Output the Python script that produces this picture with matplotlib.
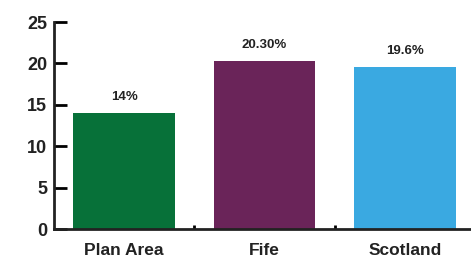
import matplotlib.pyplot as plt
import numpy as np

areas = ['Plan Area', 'Fife', 'Scotland']
values = [14, 20.3, 19.6]
labels = ['14%', '20.30%', '19.6%']
colors = ['#077139', '#6a2459', '#3aa9e1']

plt.rcParams['font.family'] = ['Liberation Sans', 'DejaVu Sans']

fig = plt.figure(figsize=(4.71, 2.63), dpi=100)
ax = fig.add_axes([54 / 471, 34 / 263, 421 / 471, 207 / 263])

x = np.arange(len(areas))
bars = ax.bar(x, values, width=0.726, color=colors)

for xi, v, lab in zip(x, values, labels):
    ax.text(xi, v + 1.2, lab, ha='center', va='bottom', fontsize=9.5,
            fontweight='bold', color='#222222')

ax.set_xlim(-0.5, 2.5)
ax.set_ylim(0, 25)
ax.set_yticks([0, 5, 10, 15, 20, 25])
ax.set_xticks(x)
ax.set_xticklabels(areas, fontsize=12.5, fontweight='bold', color='#222222')
ax.set_xticks([0.5, 1.5], minor=True)

ax.tick_params(axis='y', direction='in', length=9, width=2, labelsize=13,
               labelcolor='#222222', pad=5)
for t in ax.get_yticklabels():
    t.set_fontweight('bold')
ax.tick_params(axis='x', which='major', length=0, pad=10)
ax.tick_params(axis='x', which='minor', direction='in', length=3, width=2)

for s in ['top', 'right']:
    ax.spines[s].set_visible(False)
for s in ['left', 'bottom']:
    ax.spines[s].set_linewidth(2)
    ax.spines[s].set_color('#222222')

fig.savefig('out.png', dpi=100)
